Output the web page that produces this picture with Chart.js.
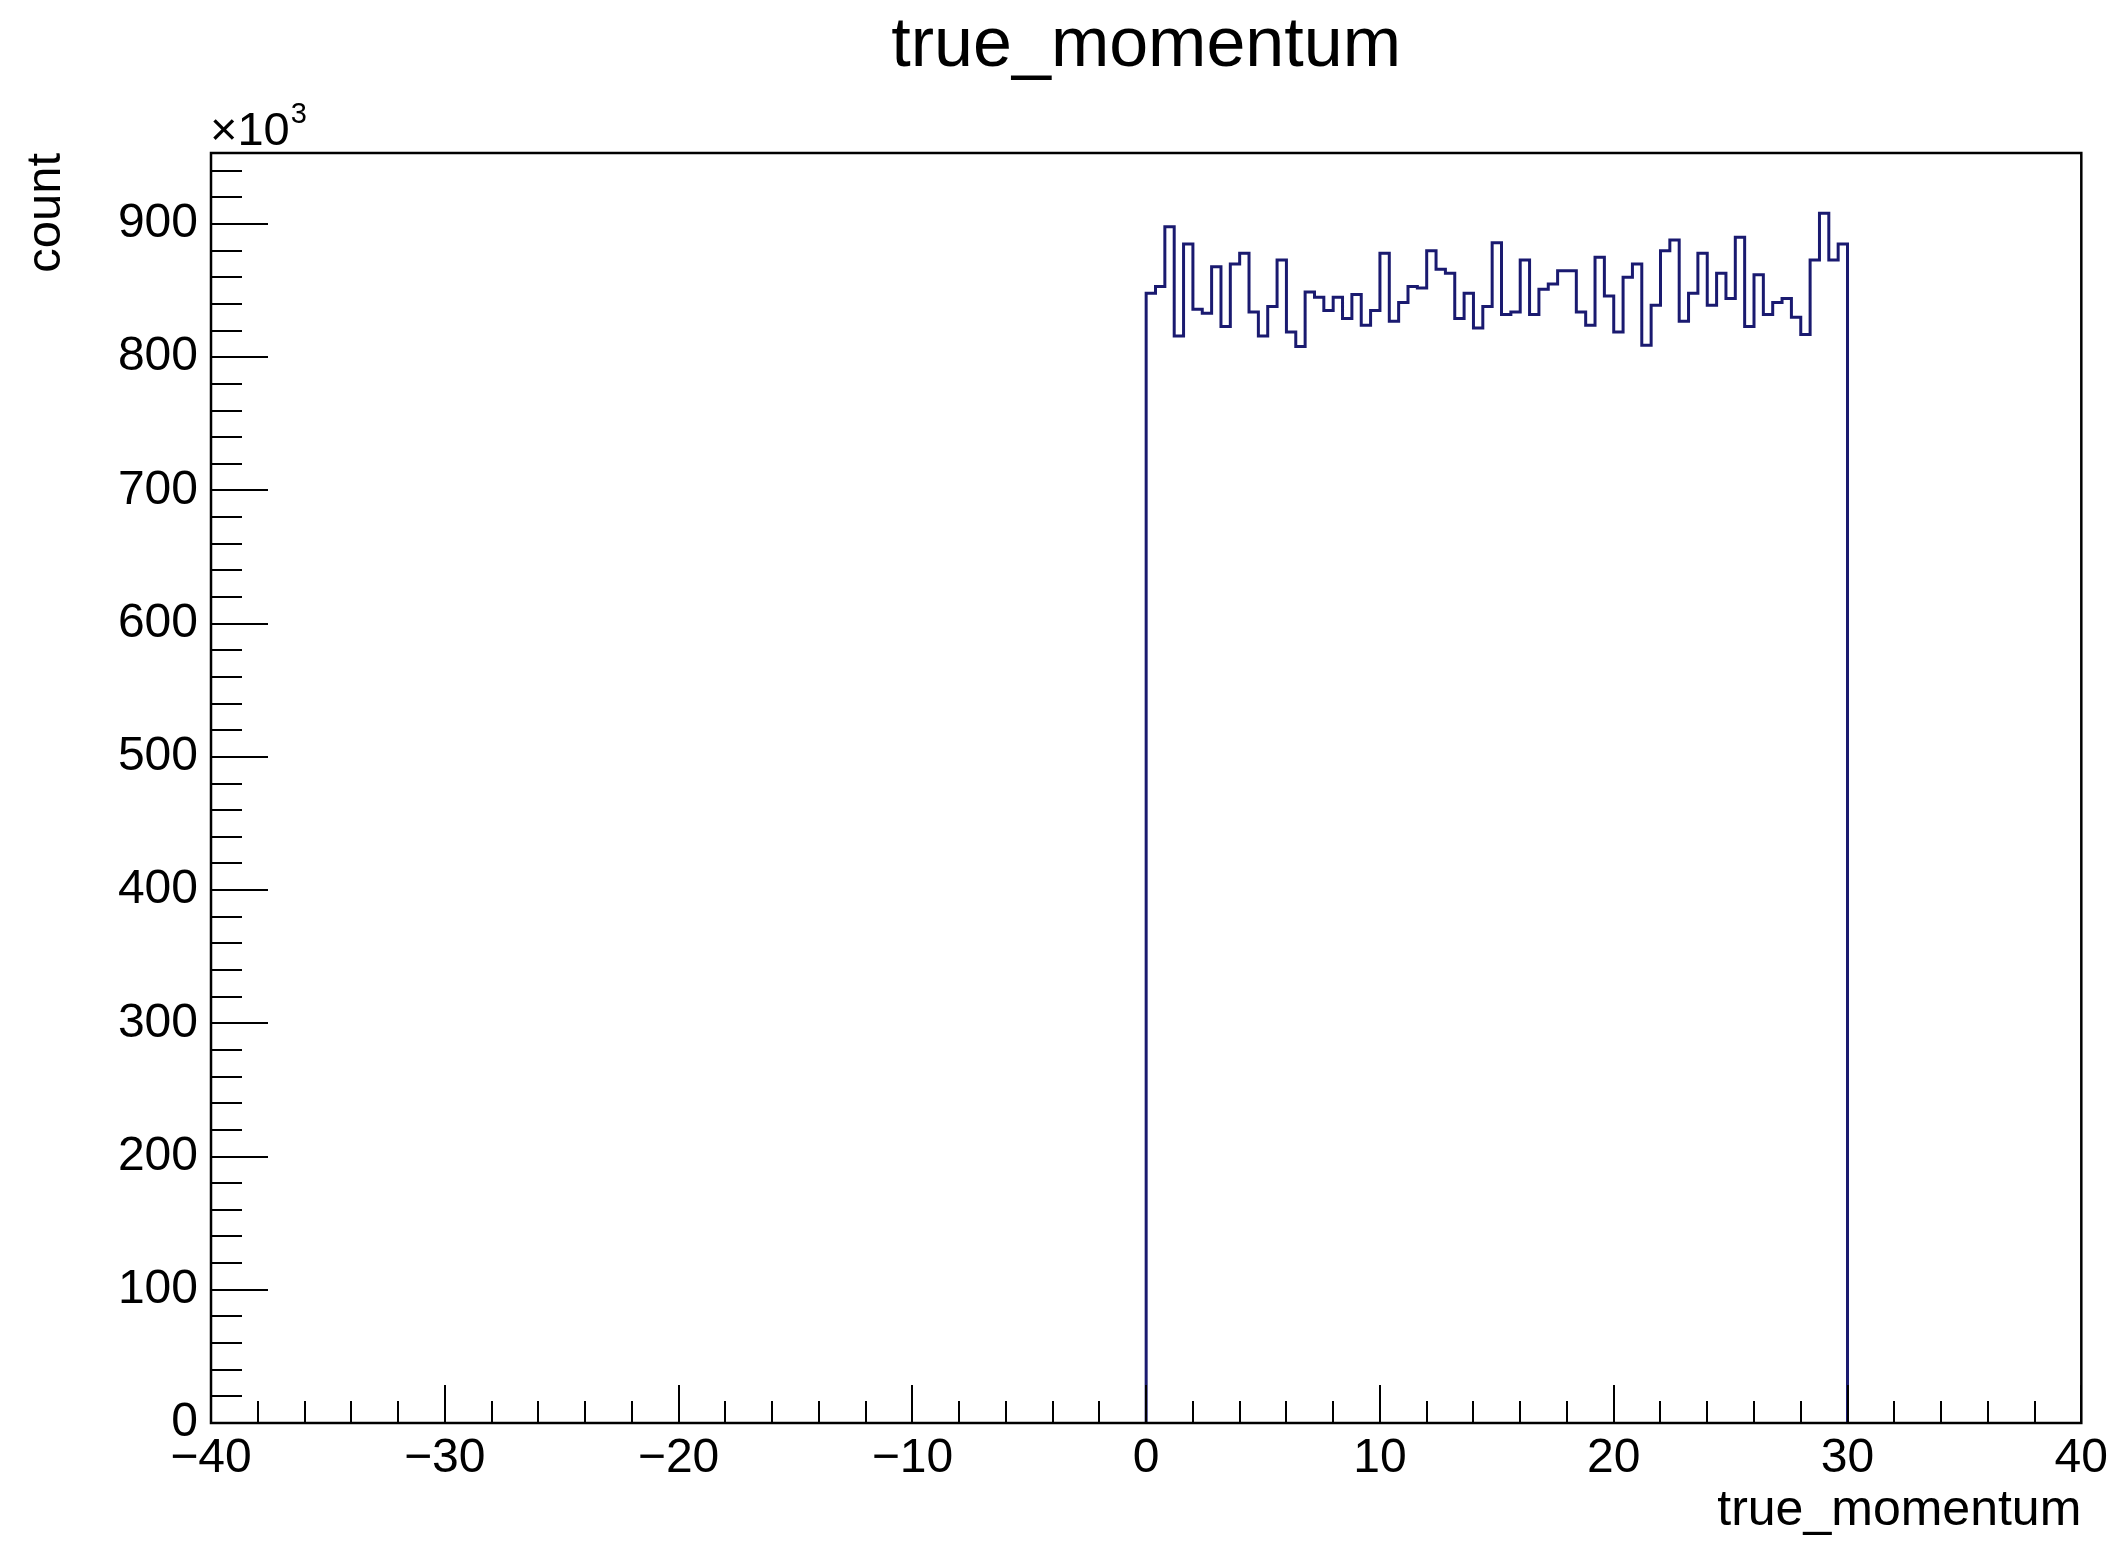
<!DOCTYPE html>
<html>
<head>
<meta charset="utf-8">
<title>true_momentum</title>
<script src="https://cdn.jsdelivr.net/npm/chart.js@4.4.1/dist/chart.umd.min.js"></script>
<style>
  html, body { margin: 0; padding: 0; background: #fff; }
  canvas { display: block; }
</style>
</head>
<body>
<canvas id="hist" width="2120" height="1545"></canvas>
<script>
// histogram binning (200 bins over -40..40, only 0..30 filled)
const binStart = 0;
const binWidth = 0.4;
// bin contents, x10^3 counts
const binCounts = [
  848, 853, 898, 816, 885, 836, 833, 868, 823, 870,
  878, 834, 816, 838, 873, 819, 808, 849, 845, 835,
  845, 829, 847, 824, 835, 878, 827, 841, 853, 852,
  880, 866, 863, 829, 848, 822, 838, 886, 832, 834,
  873, 832, 851, 855, 865, 865, 834, 824, 875, 846,
  819, 860, 870, 809, 839, 880, 888, 827, 848, 878,
  839, 863, 844, 890, 823, 862, 832, 841, 844, 830,
  817, 873, 908, 873, 885
];
const xTicks = [-40, -30, -20, -10, 0, 10, 20, 30, 40];
const yTicks = [0, 100, 200, 300, 400, 500, 600, 700, 800, 900];

const FONT = "'Liberation Sans', Arial, Helvetica, sans-serif";
const LINE = "#1a1a70";

// outline: point i sits at the upper edge of bin i, 'before' steps
// draw the flat top first and the jump at the bin edge
const points = [{ x: binStart, y: 0 }];
binCounts.forEach((v, i) => points.push({ x: binStart + i * binWidth, y: v }));
points.push({ x: binStart + binCounts.length * binWidth, y: binCounts[binCounts.length - 1] });
points.push({ x: binStart + binCounts.length * binWidth, y: 0 });

const rootFrame = {
  id: "rootFrame",
  afterDraw(chart) {
    const { ctx, chartArea: a, scales } = chart;
    const xs = scales.x, ys = scales.y;
    ctx.save();
    ctx.strokeStyle = "#000";
    ctx.lineWidth = 2;
    ctx.beginPath();
    // x ticks, inward from the bottom
    for (let v = xs.min; v <= xs.max + 1e-9; v += 2) {
      const px = Math.round(xs.getPixelForValue(v));
      const len = xTicks.includes(Math.round(v)) ? 38 : 22;
      ctx.moveTo(px, a.bottom);
      ctx.lineTo(px, a.bottom - len);
    }
    // y ticks, inward from the left
    for (let v = 0; v <= ys.max + 1e-9; v += 20) {
      const py = Math.round(ys.getPixelForValue(v));
      const len = yTicks.includes(Math.round(v)) ? 57 : 31;
      ctx.moveTo(a.left, py);
      ctx.lineTo(a.left + len, py);
    }
    ctx.stroke();
    ctx.lineWidth = 2.5;
    ctx.strokeRect(a.left, a.top, a.right - a.left, a.bottom - a.top);

    ctx.fillStyle = "#000";
    ctx.textAlign = "left";
    ctx.textBaseline = "alphabetic";
    ctx.font = "47px " + FONT;
    ctx.fillText("\u00d710", a.left - 1, a.top - 8);
    const w = ctx.measureText("\u00d710").width;
    ctx.font = "29px " + FONT;
    ctx.fillText("3", a.left - 1 + w + 1, a.top - 30);
    ctx.restore();
  }
};

new Chart(document.getElementById("hist"), {
  type: "line",
  data: {
    datasets: [{
      data: points,
      stepped: "before",
      borderColor: LINE,
      borderWidth: 3,
      pointRadius: 0,
      fill: false,
      tension: 0
    }]
  },
  options: {
    responsive: false,
    devicePixelRatio: 1,
    animation: false,
    layout: { padding: { left: 0, right: 36, top: 0, bottom: 0 } },
    plugins: {
      legend: { display: false },
      tooltip: { enabled: false },
      title: {
        display: true,
        text: "true_momentum",
        fullSize: false,
        color: "#000",
        font: { family: FONT, size: 70, weight: "normal", lineHeight: 1 },
        padding: { top: 12, bottom: 71 }
      }
    },
    scales: {
      x: {
        type: "linear",
        min: -40,
        max: 40,
        afterBuildTicks(s) { s.ticks = xTicks.map((v) => ({ value: v })); },
        afterFit(s) { s.height = 122; },
        grid: { display: false, drawTicks: false },
        border: { display: false },
        ticks: {
          color: "#000",
          padding: 12,
          maxRotation: 0,
          autoSkip: false,
          font: { family: FONT, size: 48, lineHeight: 1 },
          callback: (v) => String(v).replace("-", "\u2212")
        },
        title: {
          display: true,
          text: "true_momentum",
          align: "end",
          color: "#000",
          font: { family: FONT, size: 50, lineHeight: 1 },
          padding: { top: 0, bottom: 9 }
        }
      },
      y: {
        type: "linear",
        min: 0,
        max: 953.3,
        afterBuildTicks(s) { s.ticks = yTicks.map((v) => ({ value: v })); },
        afterFit(s) { s.width = 211; },
        grid: { display: false, drawTicks: false },
        border: { display: false },
        ticks: {
          color: "#000",
          padding: 13,
          autoSkip: false,
          font: { family: FONT, size: 48, lineHeight: 1 }
        },
        title: {
          display: true,
          text: "count",
          align: "end",
          color: "#000",
          font: { family: FONT, size: 49, lineHeight: 1 },
          padding: { top: 22, bottom: 0 }
        }
      }
    }
  },
  plugins: [rootFrame]
});
</script>
</body>
</html>
